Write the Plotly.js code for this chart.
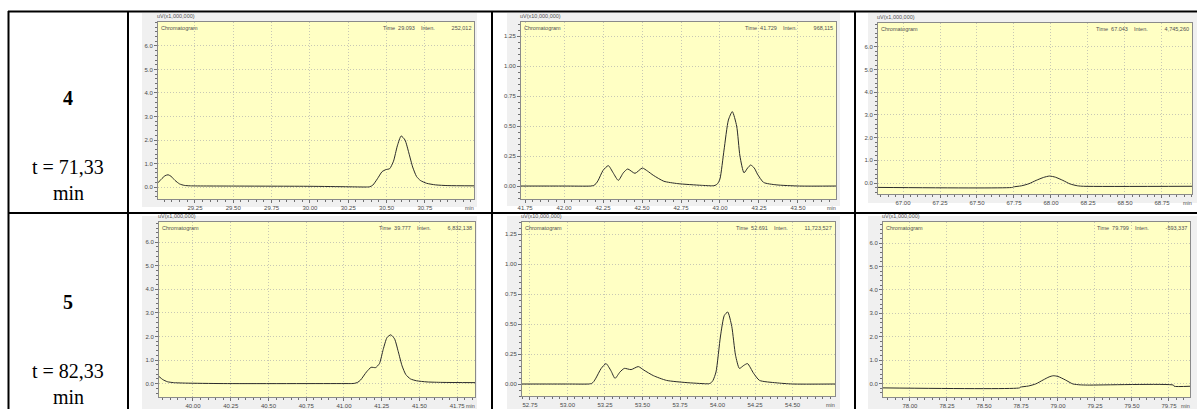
<!DOCTYPE html>
<html><head><meta charset="utf-8">
<script src="https://cdn.plot.ly/plotly-3.0.1.min.js"></script>
<style>html,body{margin:0;padding:0;background:#fff}#chart{width:1197px;height:409px}</style>
</head><body><div id="chart"></div>
<script>
// ---------- data (time in min, signal in axis units) ----------
const p1_t = [29.009,29.03,29.055,29.075,29.095,29.12,29.15,29.18,29.22,29.50,30.00,30.25,30.36,30.39,30.41,30.44,30.47,30.495,30.52,30.545,30.57,30.595,30.62,30.645,30.67,30.695,30.72,30.76,30.82,30.90,31.07];
const p1_v = [0.18,0.33,0.48,0.52,0.45,0.28,0.13,0.07,0.05,0.04,0.03,0.01,0.0,0.01,0.08,0.35,0.65,0.74,0.78,1.1,1.75,2.17,2.0,1.45,0.85,0.45,0.28,0.16,0.09,0.06,0.05];

const p2_t = [41.724,42.0,42.17,42.19,42.205,42.22,42.25,42.284,42.315,42.348,42.38,42.408,42.455,42.502,42.535,42.572,42.64,42.73,42.88,42.95,42.968,42.985,43.0,43.026,43.054,43.079,43.107,43.128,43.154,43.177,43.197,43.22,43.24,43.28,43.36,43.51,43.744];
const p2_v = [0.0,0.0,0.0,0.005,0.02,0.05,0.13,0.17,0.11,0.047,0.11,0.142,0.106,0.15,0.125,0.09,0.04,0.02,0.006,0.002,0.005,0.02,0.06,0.3,0.55,0.62,0.5,0.25,0.11,0.15,0.175,0.15,0.1,0.03,0.01,0.0,0.0];

const p3_t = [66.831,67.74,67.745,67.80,67.85,67.90,67.95,67.99,68.03,68.08,68.13,68.18,68.22,68.953];
const p3_v = [-0.19,-0.19,-0.17,-0.12,-0.03,0.12,0.25,0.31,0.26,0.12,-0.04,-0.12,-0.14,-0.14];

const p4_t = [39.775,39.80,39.83,39.87,39.95,40.2,41.0,41.05,41.07,41.09,41.11,41.15,41.18,41.21,41.235,41.26,41.285,41.31,41.335,41.36,41.385,41.41,41.44,41.48,41.55,41.65,41.868];
const p4_v = [0.30,0.17,0.08,0.04,0.02,0.0,0.0,0.0,0.01,0.05,0.15,0.5,0.69,0.68,0.85,1.45,1.95,2.07,1.9,1.35,0.75,0.38,0.2,0.12,0.07,0.05,0.04];

const p5_t = [52.697,53.0,53.14,53.162,53.175,53.19,53.225,53.257,53.29,53.317,53.35,53.379,53.424,53.472,53.51,53.572,53.66,53.79,53.92,53.94,53.955,53.97,53.99,54.02,54.045,54.068,54.095,54.12,54.146,54.175,54.20,54.24,54.28,54.39,54.50,54.783];
const p5_v = [0.0,0.0,0.0,0.005,0.02,0.05,0.13,0.17,0.11,0.047,0.1,0.13,0.12,0.145,0.115,0.07,0.03,0.012,0.002,0.002,0.008,0.03,0.1,0.4,0.57,0.6,0.48,0.24,0.13,0.155,0.17,0.09,0.03,0.01,0.0,0.0];

const p6_t = [77.818,78.74,78.745,78.80,78.85,78.90,78.94,78.968,79.00,79.05,79.10,79.15,79.20,79.78,79.785,79.892];
const p6_v = [-0.19,-0.19,-0.16,-0.11,-0.02,0.15,0.28,0.33,0.30,0.15,-0.02,-0.06,-0.07,-0.07,-0.12,-0.12];

const xticks1 = [29.25,29.50,29.75,30.00,30.25,30.50,30.75];
const xticks2 = [41.75,42.00,42.25,42.50,42.75,43.00,43.25,43.50];
const xticks3 = [67.00,67.25,67.50,67.75,68.00,68.25,68.50,68.75];
const xticks4 = [40.00,40.25,40.50,40.75,41.00,41.25,41.50,41.75];
const xticks5 = [52.75,53.00,53.25,53.50,53.75,54.00,54.25,54.50];
const xticks6 = [78.00,78.25,78.50,78.75,79.00,79.25,79.50,79.75];
const yticksA = [0.0,1.0,2.0,3.0,4.0,5.0,6.0];
const yticksB = [0.00,0.25,0.50,0.75,1.00,1.25];

const unitLabels = ["uV(x1,000,000)","uV(x10,000,000)","uV(x1,000,000)","uV(x1,000,000)","uV(x10,000,000)","uV(x1,000,000)"];
const timeVals = ["29.093","41.729","67.043","39.777","52.691","79.799"];
const intenVals = ["252,012","968,115","4,745,260","6,832,138","11,723,527","-593,337"];
const rowNums = ["4","5"];
const rowTimes = ["t = 71,33","t = 82,33"];

// ---------- layout geometry (pixels) ----------
const W = 1197, H = 409;
const fx = x => x / W, fy = y => 1 - y / H;

const panels = [
  {t:p1_t, v:p1_v, xt:xticks1, yt:yticksA, yf:1, box:[158,22,474,199], xr:[29.009,31.07], yr:[-0.51,7.02], bg:[142,13,477,207], minX:0.05, minY:0.2},
  {t:p2_t, v:p2_v, xt:xticks2, yt:yticksB, yf:2, box:[521,22,836,199], xr:[41.724,43.744], yr:[-0.108,1.367], bg:[507,13,840,206], minX:0.05, minY:0.05},
  {t:p3_t, v:p3_v, xt:xticks3, yt:yticksA, yf:1, box:[878,23,1192,194], xr:[66.831,68.953], yr:[-0.48,7.05], bg:[868,13,1197,203], minX:0.05, minY:0.2},
  {t:p4_t, v:p4_v, xt:xticks4, yt:yticksA, yf:1, box:[159,222,475,397], xr:[39.775,41.868], yr:[-0.57,6.86], bg:[142,216,477,409], minX:0.05, minY:0.2},
  {t:p5_t, v:p5_v, xt:xticks5, yt:yticksB, yf:2, box:[522,222,835,396], xr:[52.697,54.783], yr:[-0.1,1.35], bg:[507,216,840,409], minX:0.05, minY:0.05},
  {t:p6_t, v:p6_v, xt:xticks6, yt:yticksA, yf:1, box:[883,222,1190,397], xr:[77.818,79.892], yr:[-0.58,6.91], bg:[868,216,1197,409], minX:0.05, minY:0.2}
];

const traces = [], shapes = [], annotations = [];
const layout = {
  width: W, height: H, margin: {l:0, r:0, t:0, b:0},
  paper_bgcolor: '#ffffff', showlegend: false,
  font: {family: 'Liberation Sans, Arial, sans-serif', size: 6, color: '#505050'}
};

const tickFont = {family:'Liberation Sans, Arial, sans-serif', size:6, color:'#4a4a4a'};

panels.forEach((p, i) => {
  const n = i + 1;
  const xa = 'xaxis' + (n === 1 ? '' : n), ya = 'yaxis' + (n === 1 ? '' : n);
  const xr = 'x' + (n === 1 ? '' : n), yr = 'y' + (n === 1 ? '' : n);
  const [l, t, r, b] = p.box;
  shapes.push({type:'rect', xref:'paper', yref:'paper', x0:fx(p.bg[0]), x1:fx(p.bg[2]), y0:fy(p.bg[3]), y1:fy(p.bg[1]),
    fillcolor:'#f0f0f0', line:{width:0}, layer:'below'});
  shapes.push({type:'rect', xref:'paper', yref:'paper', x0:fx(l), x1:fx(r), y0:fy(b), y1:fy(t),
    fillcolor:'#ffffc4', line:{width:0}, layer:'below'});
  traces.push({type:'scatter', mode:'lines', x:p.t, y:p.v, xaxis:xr, yaxis:yr,
    line:{color:'#2b2b2b', width:1, shape:'spline', smoothing:0.6}, hoverinfo:'skip'});
  const common = {ticks:'outside', ticklen:3, tickcolor:'#707070',
    showline:true, linecolor:'#8a8a8a', linewidth:1, mirror:true, zeroline:false,
    showgrid:true, gridcolor:'#c8c8b4', griddash:'1px,2px', gridwidth:1, tickfont:tickFont, fixedrange:true};
  layout[xa] = Object.assign({domain:[fx(l), fx(r)], anchor:yr, range:p.xr, tickmode:'array', tickvals:p.xt,
    ticktext:p.xt.map(v => v.toFixed(2)),
    minor:{dtick:p.minX, tick0:0, ticks:'outside', ticklen:2, tickcolor:'#707070', showgrid:false}}, common);
  layout[ya] = Object.assign({domain:[fy(b), fy(t)], anchor:xr, range:p.yr, tickmode:'array', tickvals:p.yt,
    ticktext:p.yt.map(v => v.toFixed(p.yf)),
    minor:{dtick:p.minY, tick0:0, ticks:'outside', ticklen:2, tickcolor:'#707070', showgrid:false}}, common);
  annotations.push({xref:'paper', yref:'paper', x:fx(l - 3), y:fy(t - 1), xanchor:'left', yanchor:'bottom',
    text:unitLabels[i], showarrow:false, font:{size:5.5, color:'#505050'}});
  annotations.push({xref:'paper', yref:'paper', x:fx(l + 1), y:fy(t + 1), xanchor:'left', yanchor:'top',
    text:'Chromatogram', showarrow:false, font:{size:5.5, color:'#505050'}});
  annotations.push({xref:'paper', yref:'paper', x:fx(r - 1), y:fy(t + 1), xanchor:'right', yanchor:'top',
    text:'Time&nbsp;&nbsp;' + timeVals[i] + '&nbsp;&nbsp;&nbsp;&nbsp;Inten.&nbsp;&nbsp;&nbsp;&nbsp;&nbsp;&nbsp;&nbsp;&nbsp;&nbsp;&nbsp;&nbsp;' + intenVals[i],
    showarrow:false, font:{size:5.5, color:'#505050'}});
  annotations.push({xref:'paper', yref:'paper', x:fx(r - 5), y:fy(b + 4), xanchor:'center', yanchor:'top',
    text:'min', showarrow:false, font:{size:5.5, color:'#505050'}});
});

// ---------- table grid ----------
const tl = (x0, y0, x1, y1) => shapes.push({type:'line', xref:'paper', yref:'paper', x0:fx(x0), y0:fy(y0), x1:fx(x1), y1:fy(y1),
  line:{color:'#000000', width:2}, layer:'above'});
tl(8, 11.5, 1200, 11.5);
tl(8, 213, 1200, 213);
tl(8.5, 11, 8.5, 412);
tl(128, 11, 128, 412);
tl(492, 11, 492, 412);
tl(855, 11, 855, 412);

// ---------- left column labels ----------
const serif = 'Liberation Serif, Times New Roman, serif';
const rowY = [[98, 167, 193], [302, 371, 397]];
rowNums.forEach((s, k) => {
  annotations.push({xref:'paper', yref:'paper', x:fx(68), y:fy(rowY[k][0]), xanchor:'center', yanchor:'middle',
    text:'<b>' + s + '</b>', showarrow:false, font:{family:serif, size:20, color:'#000'}});
  annotations.push({xref:'paper', yref:'paper', x:fx(68), y:fy(rowY[k][1]), xanchor:'center', yanchor:'middle',
    text:rowTimes[k], showarrow:false, font:{family:serif, size:20, color:'#000'}});
  annotations.push({xref:'paper', yref:'paper', x:fx(68), y:fy(rowY[k][2]), xanchor:'center', yanchor:'middle',
    text:'min', showarrow:false, font:{family:serif, size:20, color:'#000'}});
});

layout.shapes = shapes;
layout.annotations = annotations;
Plotly.newPlot('chart', traces, layout, {staticPlot:true, displayModeBar:false});
</script>
</body></html>
